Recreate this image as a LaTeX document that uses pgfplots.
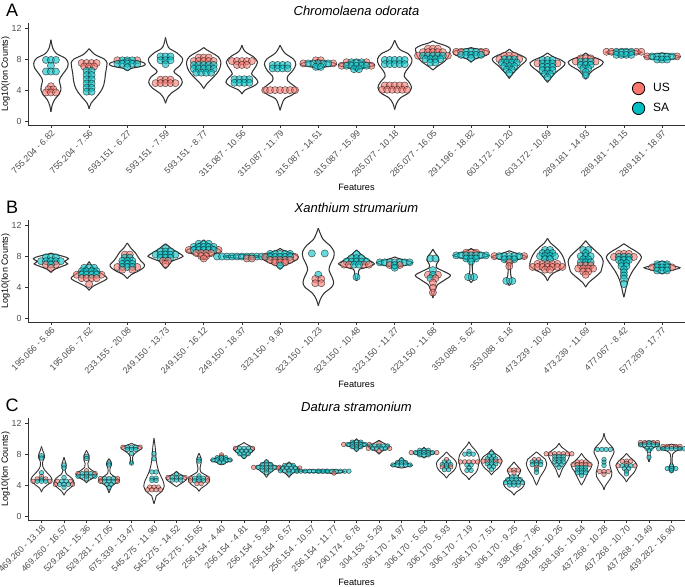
\documentclass[border=0pt]{standalone}
\usepackage{pgfplots}
\usepackage{pgfplotstable}
\pgfplotsset{compat=1.18}
\usepackage{fontspec}
\setmainfont{Liberation Sans}
\definecolor{usc}{HTML}{F8766D}
\definecolor{sac}{HTML}{00BFC4}
\definecolor{axc}{HTML}{333333}
\definecolor{tkc}{HTML}{4D4D4D}

\newcommand\vio[2]{%
 \addplot[vline] table[row sep=\\, x expr=#1+\thisrow{w}, y=y] {y w\\ #2};
 \addplot[vline] table[row sep=\\, x expr=#1-\thisrow{w}, y=y] {y w\\ #2};
}

\pgfplotsset{
 vline/.style={smooth, tension=0.55, draw=axc, line width=1.05pt, forget plot, no markers},
 dots/.style={scatter, only marks, forget plot, point meta=explicit symbolic,
   scatter/classes={U={mark=*,draw=black!90,fill=usc,fill opacity=0.6,draw opacity=0.7,line width=0.5pt},
                    S={mark=*,draw=black!90,fill=sac,fill opacity=0.6,draw opacity=0.7,line width=0.5pt}}},
 panel/.style={
  scale only axis, width=657pt, height=101.5pt,
  ymin=-0.5, ymax=12.6, ytick={0,4,8,12},
  axis x line*=bottom, axis y line*=left,
  axis line style={draw=axc, line width=0.8pt, -},
  tick style={draw=axc, line width=0.6pt},
  tick align=outside, major tick length=3pt,
  clip=false,
  /pgf/number format/assume math mode=true,
  x tick label style={rotate=45, anchor=north east, inner sep=1pt, font=\fontsize{8.8}{10}\selectfont, text=tkc},
  y tick label style={font=\fontsize{8.8}{10}\selectfont, text=tkc},
  ylabel={Log10(Ion Counts)},
  ylabel style={at={(axis description cs:-0.034,0.5)}, anchor=center, font=\fontsize{9}{11}\selectfont},
  xlabel={Features},
  xlabel style={at={(axis description cs:0.5,-0.61)}, anchor=center, font=\fontsize{9.2}{11}\selectfont},
 }
}

\pgfplotstableread[row sep=\\]{c y k g\\
0 7.9 -1 S\\0 7.9 0 S\\0 7.9 1 S\\0 7.15 0 S\\0 6.4 -1 S\\0 6.4 0 S\\0 6.4 1 S\\0 4.5 0 U\\0 4.1 -0.5 U\\0 4.1 0.5 U\\0 3.7 -1 U\\0 3.7 0 U\\0 3.7 1 U\\
1 7.5 -1.5 U\\1 7.5 -0.5 U\\1 7.5 0.5 U\\1 7.5 1.5 U\\1 7.05 -1 U\\1 7.05 0 U\\1 7.05 1 U\\1 6.5 -0.5 S\\1 6.5 0.5 S\\1 5.95 -0.5 S\\1 5.95 0.5 S\\1 5.4 -0.5 S\\1 5.4 0.5 S\\1 4.85 -0.5 S\\1 4.85 0.5 S\\1 4.3 -0.5 S\\1 4.3 0.5 S\\1 3.8 -0.5 S\\1 3.8 0.5 S\\
2 7.85 -2 U\\2 7.85 2 U\\2 7.85 -1 S\\2 7.85 0 S\\2 7.85 1 S\\2 7.4 -2 S\\2 7.4 -1 S\\2 7.4 0 S\\2 7.4 1 S\\2 7.4 2 S\\2 6.95 0 S\\
3 8.35 -1 S\\3 8.35 0 S\\3 8.35 1 S\\3 7.85 -1 S\\3 7.85 0 S\\3 7.85 1 S\\3 7.35 0 S\\3 5.35 -1 U\\3 5.35 0 U\\3 5.35 1 U\\3 4.9 -2 U\\3 4.9 -1 U\\3 4.9 0 U\\3 4.9 1 U\\3 4.9 2 U\\
4 8.2 -1 U\\4 8.2 0 U\\4 8.2 1 U\\4 7.75 -2 U\\4 7.75 -1 U\\4 7.75 0 U\\4 7.75 1 U\\4 7.75 2 U\\4 7.25 -2 S\\4 7.25 -1 S\\4 7.25 0 S\\4 7.25 1 S\\4 7.25 2 S\\4 6.75 -2 S\\4 6.75 -1 S\\4 6.75 0 S\\4 6.75 1 S\\4 6.75 2 S\\4 6.25 -1.5 S\\4 6.25 -0.5 S\\4 6.25 0.5 S\\4 6.25 1.5 S\\
5 7.75 -2 U\\5 7.75 -1 U\\5 7.75 0 U\\5 7.75 1 U\\5 7.75 2 U\\5 7.25 -1 U\\5 7.25 0 U\\5 7.25 1 U\\5 5.4 -1.5 S\\5 5.4 -0.5 S\\5 5.4 0.5 S\\5 5.4 1.5 S\\5 4.95 -1.5 S\\5 4.95 -0.5 S\\5 4.95 0.5 S\\5 4.95 1.5 S\\
6 7.25 -1.5 S\\6 7.25 -0.5 S\\6 7.25 0.5 S\\6 7.25 1.5 S\\6 6.8 -1.5 S\\6 6.8 -0.5 S\\6 6.8 0.5 S\\6 6.8 1.5 S\\6 4.0 -3 U\\6 4.0 -2 U\\6 4.0 -1 U\\6 4.0 0 U\\6 4.0 1 U\\6 4.0 2 U\\6 4.0 3 U\\
7 7.85 -0.5 U\\7 7.85 0.5 U\\7 7.45 -3 U\\7 7.45 3 U\\7 7.45 -2 S\\7 7.45 -1 S\\7 7.45 0 S\\7 7.45 1 S\\7 7.45 2 S\\7 7.0 -0.5 S\\7 7.0 0.5 S\\
8 7.6 -2 U\\8 7.6 2 U\\8 7.6 -1 S\\8 7.6 0 S\\8 7.6 1 S\\8 7.15 -3 U\\8 7.15 3 U\\8 7.15 -2 S\\8 7.15 -1 S\\8 7.15 0 S\\8 7.15 1 S\\8 7.15 2 S\\8 6.7 -0.5 S\\8 6.7 0.5 S\\
9 7.9 -2 S\\9 7.9 -1 S\\9 7.9 0 S\\9 7.9 1 S\\9 7.9 2 S\\9 7.35 -2 S\\9 7.35 -1 S\\9 7.35 0 S\\9 7.35 1 S\\9 7.35 2 S\\9 4.6 -2 U\\9 4.6 -1 U\\9 4.6 0 U\\9 4.6 1 U\\9 4.6 2 U\\9 4.05 -2.5 U\\9 4.05 -1.5 U\\9 4.05 -0.5 U\\9 4.05 0.5 U\\9 4.05 1.5 U\\9 4.05 2.5 U\\
10 9.35 -1 U\\10 9.35 0 U\\10 9.35 1 U\\10 8.9 -2 U\\10 8.9 -1 U\\10 8.9 0 U\\10 8.9 1 U\\10 8.9 2 U\\10 8.45 -3 U\\10 8.45 3 U\\10 8.45 -2 S\\10 8.45 -1 S\\10 8.45 0 S\\10 8.45 1 S\\10 8.45 2 S\\10 8.0 -1.5 S\\10 8.0 -0.5 S\\10 8.0 0.5 S\\10 8.0 1.5 S\\10 7.55 -0.5 S\\10 7.55 0.5 S\\
11 8.95 -3 U\\11 8.95 -2 U\\11 8.95 2 U\\11 8.95 3 U\\11 8.95 -1 S\\11 8.95 0 S\\11 8.95 1 S\\11 8.55 -2 S\\11 8.55 -1 S\\11 8.55 0 S\\11 8.55 1 S\\11 8.55 2 S\\11 8.15 0 S\\
12 8.45 -1 U\\12 8.45 0 U\\12 8.45 1 U\\12 8.0 -2 U\\12 8.0 2 U\\12 8.0 -1 S\\12 8.0 0 S\\12 8.0 1 S\\12 7.55 -1.5 S\\12 7.55 -0.5 S\\12 7.55 0.5 S\\12 7.55 1.5 S\\12 7.1 -1 S\\12 7.1 0 S\\12 7.1 1 S\\12 6.65 -0.5 S\\12 6.65 0.5 S\\12 6.2 0 S\\
13 7.9 -1 S\\13 7.9 0 S\\13 7.9 1 S\\13 7.45 -2 U\\13 7.45 2 U\\13 7.45 -1 S\\13 7.45 0 S\\13 7.45 1 S\\13 7.0 -1 S\\13 7.0 0 S\\13 7.0 1 S\\13 6.55 -1 S\\13 6.55 0 S\\13 6.55 1 S\\13 6.1 -0.5 S\\13 6.1 0.5 S\\13 5.65 0 S\\
14 8.1 -1 U\\14 8.1 0 U\\14 8.1 1 U\\14 7.7 -2 U\\14 7.7 2 U\\14 7.7 -1 S\\14 7.7 0 S\\14 7.7 1 S\\14 7.25 -1 S\\14 7.25 0 S\\14 7.25 1 S\\14 6.8 -0.5 S\\14 6.8 0.5 S\\14 6.35 0 S\\14 5.9 0 S\\
15 8.95 -3.5 U\\15 8.95 -2.5 U\\15 8.95 2.5 U\\15 8.95 3.5 U\\15 8.95 -1.5 S\\15 8.95 -0.5 S\\15 8.95 0.5 S\\15 8.95 1.5 S\\15 8.55 -1.5 S\\15 8.55 -0.5 S\\15 8.55 0.5 S\\15 8.55 1.5 S\\
16 8.35 -3 U\\16 8.35 3 U\\16 8.35 -2 S\\16 8.35 -1 S\\16 8.35 0 S\\16 8.35 1 S\\16 8.35 2 S\\16 7.95 -1 S\\16 7.95 0 S\\16 7.95 1 S\\
}\dotsA

\pgfplotstableread[row sep=\\]{c y k g\\
0 7.85 -1 S\\0 7.85 0 S\\0 7.85 1 S\\0 7.35 -2 S\\0 7.35 -1 S\\0 7.35 0 S\\0 7.35 1 S\\0 7.35 2 S\\0 6.9 -1 U\\0 6.9 1 U\\0 6.9 0 S\\0 6.5 0 U\\
1 6.5 -1 S\\1 6.5 0 S\\1 6.5 1 S\\1 6.05 -1.5 S\\1 6.05 -0.5 S\\1 6.05 0.5 S\\1 6.05 1.5 S\\1 5.6 -2.5 U\\1 5.6 2.5 U\\1 5.6 -1.5 S\\1 5.6 -0.5 S\\1 5.6 0.5 S\\1 5.6 1.5 S\\1 5.15 -1.5 U\\1 5.15 -0.5 U\\1 5.15 0.5 U\\1 5.15 1.5 U\\1 4.4 0 U\\
2 8.2 -0.5 U\\2 8.2 0.5 U\\2 7.8 -0.5 S\\2 7.8 0.5 S\\2 7.4 -1 S\\2 7.4 0 S\\2 7.4 1 S\\2 7.0 -1 S\\2 7.0 0 S\\2 7.0 1 S\\2 6.6 -2 U\\2 6.6 2 U\\2 6.6 -1 S\\2 6.6 0 S\\2 6.6 1 S\\2 6.25 -1 U\\2 6.25 1 U\\
3 9.0 0 S\\3 8.6 -1 S\\3 8.6 0 S\\3 8.6 1 S\\3 8.2 -2 S\\3 8.2 -1 S\\3 8.2 0 S\\3 8.2 1 S\\3 8.2 2 S\\3 7.8 -1 S\\3 7.8 0 S\\3 7.8 1 S\\3 7.4 -0.5 U\\3 7.4 0.5 U\\3 7.0 0 U\\
4 9.6 -1 S\\4 9.6 0 S\\4 9.6 1 S\\4 9.2 -2 S\\4 9.2 -1 S\\4 9.2 0 S\\4 9.2 1 S\\4 9.2 2 S\\4 8.8 -3 U\\4 8.8 3 U\\4 8.8 -2 S\\4 8.8 -1 S\\4 8.8 0 S\\4 8.8 1 S\\4 8.8 2 S\\4 8.4 -1.5 U\\4 8.4 -0.5 U\\4 8.4 0.5 U\\4 8.4 1.5 U\\4 8.0 -0.5 U\\4 8.0 0.5 U\\4 7.7 0 U\\
5 7.95 -5 S\\5 7.95 -4 S\\5 7.95 -3 S\\5 7.95 -2 S\\5 7.95 -1 S\\5 7.95 0 S\\5 7.95 1 S\\5 7.95 2 S\\5 7.95 3 S\\5 7.95 4 S\\5 7.95 5 S\\5 7.7 1 U\\5 7.7 2 U\\
6 8.3 -2 S\\6 8.3 -1 S\\6 8.3 0 S\\6 8.3 1 S\\6 8.3 2 S\\6 7.9 -3 U\\6 7.9 3 U\\6 7.9 -2 S\\6 7.9 -1 S\\6 7.9 0 S\\6 7.9 1 S\\6 7.9 2 S\\6 7.5 -2 U\\6 7.5 -1 U\\6 7.5 0 U\\6 7.5 1 U\\6 7.5 2 U\\6 7.2 -1 U\\6 7.2 0 U\\6 7.2 1 U\\6 6.8 0 S\\
7 8.35 -1.3 S\\7 8.35 1.3 S\\7 5.6 0 S\\7 5.05 -0.6 U\\7 5.05 0.6 U\\7 4.5 -0.6 U\\7 4.5 0.6 U\\
8 8.25 0 S\\8 7.75 -1 S\\8 7.75 0 S\\8 7.75 1 S\\8 7.3 -2 S\\8 7.3 -1 S\\8 7.3 0 S\\8 7.3 1 S\\8 7.3 2 S\\8 6.9 -2.5 U\\8 6.9 -1.5 U\\8 6.9 1.5 U\\8 6.9 2.5 U\\8 6.9 -0.5 S\\8 6.9 0.5 S\\8 5.3 0 S\\
9 7.2 -3 S\\9 7.2 -2 S\\9 7.2 -1 S\\9 7.2 0 S\\9 7.2 1 S\\9 7.2 2 S\\9 7.2 3 S\\9 6.85 -1 U\\9 6.85 1 U\\9 6.85 0 S\\9 6.5 0 S\\
10 7.7 -0.5 S\\10 7.7 0.5 S\\10 6.2 0 S\\10 5.6 -1 U\\10 5.6 1 U\\10 5.6 0 S\\10 5.15 -0.5 S\\10 5.15 0.5 U\\10 4.6 0 U\\10 3.9 0 U\\10 3.3 0 U\\
11 8.45 -1 U\\11 8.45 0 U\\11 8.45 1 U\\11 8.1 -3 S\\11 8.1 -2 S\\11 8.1 -1 S\\11 8.1 0 S\\11 8.1 1 S\\11 8.1 2 S\\11 8.1 3 S\\11 7.7 -1 S\\11 7.7 0 S\\11 7.7 1 S\\11 7.3 0 S\\11 5.3 -0.6 S\\11 5.3 0.6 S\\
12 8.0 -3 U\\12 8.0 3 U\\12 8.0 -2 S\\12 8.0 -1 S\\12 8.0 0 S\\12 8.0 1 S\\12 8.0 2 S\\12 7.6 -1 S\\12 7.6 0 S\\12 7.6 1 S\\12 7.2 0 U\\12 6.7 0 U\\12 4.8 -0.6 S\\12 4.8 0.6 S\\
13 8.8 -0.5 S\\13 8.8 0.5 S\\13 8.4 -1 S\\13 8.4 0 S\\13 8.4 1 S\\13 8.0 -1.5 S\\13 8.0 -0.5 S\\13 8.0 0.5 S\\13 8.0 1.5 S\\13 7.6 -0.5 S\\13 7.6 0.5 S\\13 7.0 -2 U\\13 7.0 -1 U\\13 7.0 0 U\\13 7.0 1 U\\13 7.0 2 U\\13 6.6 -3 U\\13 6.6 -2 U\\13 6.6 -1 U\\13 6.6 0 U\\13 6.6 1 U\\13 6.6 2 U\\13 6.6 3 U\\13 6.25 -0.5 U\\13 6.25 0.5 U\\
14 8.8 -0.5 S\\14 8.8 0.5 S\\14 8.4 0 S\\14 8.0 -1 S\\14 8.0 0 S\\14 8.0 1 S\\14 7.6 -0.5 S\\14 7.6 0.5 S\\14 7.2 -1 S\\14 7.2 0 S\\14 7.2 1 S\\14 6.8 -1 U\\14 6.8 0 U\\14 6.8 1 U\\14 6.4 -1.5 U\\14 6.4 -0.5 U\\14 6.4 0.5 U\\14 6.4 1.5 U\\14 6.0 -0.5 U\\14 6.0 0.5 U\\14 5.6 0 U\\
15 8.3 -1 U\\15 8.3 0 U\\15 8.3 1 U\\15 7.9 -2 U\\15 7.9 2 U\\15 7.9 -1 S\\15 7.9 0 S\\15 7.9 1 S\\15 7.5 -1 S\\15 7.5 0 S\\15 7.5 1 S\\15 7.1 -0.5 S\\15 7.1 0.5 S\\15 6.7 -0.5 S\\15 6.7 0.5 S\\15 6.3 0 S\\15 5.9 0 S\\15 5.5 0 S\\15 5.1 0 S\\15 4.4 0 S\\
16 6.95 -1 S\\16 6.95 0 S\\16 6.95 1 S\\16 6.55 -2 U\\16 6.55 2 U\\16 6.55 -1 S\\16 6.55 0 S\\16 6.55 1 S\\16 6.15 -1 S\\16 6.15 0 S\\16 6.15 1 S\\
}\dotsB

\pgfplotstableread[row sep=\\]{c y k g\\
0 7.8 0 S\\0 7.5 0 S\\0 5.6 0 S\\0 5.1 0 U\\0 4.8 -1 U\\0 4.8 1 U\\0 4.8 0 S\\0 4.5 -2 U\\0 4.5 2 U\\0 4.5 -1 S\\0 4.5 0 S\\0 4.5 1 S\\
1 6.6 0 S\\1 6.2 0 S\\1 5.0 0 S\\1 4.5 -1.5 U\\1 4.5 1.5 U\\1 4.5 -0.5 S\\1 4.5 0.5 S\\1 4.1 -2 U\\1 4.1 2 U\\1 4.1 -1 S\\1 4.1 0 S\\1 4.1 1 S\\1 3.7 0 S\\
2 7.7 0 S\\2 7.45 0 S\\2 5.85 0 U\\2 5.5 -2 U\\2 5.5 2 U\\2 5.5 -1 S\\2 5.5 0 S\\2 5.5 1 S\\2 5.15 -2 S\\2 5.15 -1 S\\2 5.15 0 S\\2 5.15 1 S\\2 5.15 2 S\\2 4.8 0 S\\
3 6.85 0 S\\3 6.6 0 S\\3 4.85 -2 U\\3 4.85 2 U\\3 4.85 -1 S\\3 4.85 0 S\\3 4.85 1 S\\3 4.5 -2 U\\3 4.5 2 U\\3 4.5 -1 S\\3 4.5 0 S\\3 4.5 1 S\\3 4.1 -0.5 S\\3 4.1 0.5 S\\3 3.7 0 S\\
4 8.9 -2 U\\4 8.9 2 U\\4 8.9 -1 S\\4 8.9 0 S\\4 8.9 1 S\\4 8.6 -1 S\\4 8.6 0 S\\4 8.6 1 S\\4 8.1 0 S\\4 6.85 0 S\\
5 8.1 0 S\\5 7.4 0 S\\5 5.7 -0.5 S\\5 5.7 0.5 S\\5 4.9 -0.5 S\\5 4.9 0.5 S\\5 4.6 -0.5 S\\5 4.6 0.5 S\\5 3.75 -1 U\\5 3.75 0 U\\5 3.75 1 U\\5 3.4 -1.5 U\\5 3.4 -0.5 U\\5 3.4 0.5 U\\5 3.4 1.5 U\\
6 5.4 0 S\\6 5.0 -2 U\\6 5.0 2 U\\6 5.0 -1 S\\6 5.0 0 S\\6 5.0 1 S\\6 4.65 -1 S\\6 4.65 0 S\\6 4.65 1 S\\
7 7.35 0 S\\7 7.1 0 S\\7 5.2 0 S\\7 4.9 -2 U\\7 4.9 2 U\\7 4.9 -1 S\\7 4.9 0 S\\7 4.9 1 S\\7 4.55 -2 U\\7 4.55 2 U\\7 4.55 -1 S\\7 4.55 0 S\\7 4.55 1 S\\7 4.2 -0.5 U\\7 4.2 0.5 U\\
8 7.9 0 U\\8 7.55 -1 S\\8 7.55 0 S\\8 7.55 1 S\\8 7.25 -2 S\\8 7.25 -1 S\\8 7.25 0 S\\8 7.25 1 S\\8 7.25 2 S\\8 6.95 -0.5 S\\8 6.95 0.5 S\\
9 8.75 -2 U\\9 8.75 2 U\\9 8.75 -1 S\\9 8.75 0 S\\9 8.75 1 S\\9 8.4 -1.5 S\\9 8.4 -0.5 S\\9 8.4 0.5 S\\9 8.4 1.5 S\\9 8.05 -1 S\\9 8.05 0 S\\9 8.05 1 S\\9 7.7 0 S\\
10 7.0 0 S\\10 6.65 -1 S\\10 6.65 0 S\\10 6.65 1 S\\10 6.3 -3 U\\10 6.3 3 U\\10 6.3 -2 S\\10 6.3 -1 S\\10 6.3 0 S\\10 6.3 1 S\\10 6.3 2 S\\10 5.95 -1 S\\10 5.95 0 S\\10 5.95 1 S\\10 5.6 0 S\\
11 6.55 -1 S\\11 6.55 0 S\\11 6.55 1 S\\11 6.2 -2.5 U\\11 6.2 2.5 U\\11 6.2 -1.5 S\\11 6.2 -0.5 S\\11 6.2 0.5 S\\11 6.2 1.5 S\\11 5.85 -2 S\\11 5.85 -1 S\\11 5.85 0 S\\11 5.85 1 S\\11 5.85 2 S\\11 5.55 0 S\\
12 5.8 -3.5 S\\12 5.8 -2.5 S\\12 5.8 -1.5 S\\12 5.8 -0.5 S\\12 5.8 0.5 S\\12 5.8 1.5 S\\12 5.8 2.5 S\\12 5.8 3.5 S\\
13 5.8 -3.5 S\\13 5.8 -2.5 S\\13 5.8 -1.5 S\\13 5.8 -0.5 S\\13 5.8 0.5 S\\13 5.8 1.5 S\\13 5.8 2.5 S\\13 5.8 3.5 S\\13 5.55 0 U\\
14 9.25 -3 U\\14 9.25 3 U\\14 9.55 -1 S\\14 9.55 0 S\\14 9.55 1 S\\14 9.25 -2 S\\14 9.25 -1 S\\14 9.25 0 S\\14 9.25 1 S\\14 9.25 2 S\\14 8.95 -1 S\\14 8.95 0 S\\14 8.95 1 S\\14 8.65 0 S\\
15 9.4 0 U\\15 9.05 -2 S\\15 9.05 -1 S\\15 9.05 0 S\\15 9.05 1 S\\15 9.05 2 S\\15 8.75 -2.5 U\\15 8.75 2.5 U\\15 8.75 -1.5 S\\15 8.75 -0.5 S\\15 8.75 0.5 S\\15 8.75 1.5 S\\15 8.45 0 U\\
16 7.25 0 S\\16 6.9 -1 S\\16 6.9 0 S\\16 6.9 1 S\\16 6.6 -2 S\\16 6.6 -1 S\\16 6.6 0 S\\16 6.6 1 S\\16 6.6 2 S\\
17 8.5 -1 S\\17 8.5 0 S\\17 8.5 1 S\\17 8.2 -3 U\\17 8.2 3 U\\17 8.2 -2 S\\17 8.2 -1 S\\17 8.2 0 S\\17 8.2 1 S\\17 8.2 2 S\\17 7.9 -1 S\\17 7.9 0 S\\17 7.9 1 S\\
18 7.3 0 U\\18 7.0 -0.5 S\\18 7.0 0.5 S\\18 6.65 -1 S\\18 6.65 0 S\\18 6.65 1 S\\18 6.35 -1 U\\18 6.35 1 U\\18 6.35 0 S\\18 6.0 -0.5 S\\18 6.0 0.5 S\\
19 8.35 0 S\\19 8.0 -1 S\\19 8.0 0 S\\19 8.0 1 S\\19 7.0 -2 U\\19 7.0 -1 U\\19 7.0 0 U\\19 7.0 1 U\\19 7.0 2 U\\19 6.6 -0.5 S\\19 6.6 0.5 S\\19 6.25 0 S\\19 5.9 -0.5 S\\19 5.9 0.5 S\\
20 8.1 0 S\\20 7.75 -0.5 S\\20 7.75 0.5 S\\20 7.4 -1 S\\20 7.4 0 S\\20 7.4 1 S\\20 7.1 -2 U\\20 7.1 -1 U\\20 7.1 1 U\\20 7.1 2 U\\20 7.1 0 S\\20 6.75 -1 S\\20 6.75 0 S\\20 6.75 1 S\\20 6.4 -0.5 S\\20 6.4 0.5 S\\20 6.05 0 S\\
21 5.95 -1 U\\21 5.95 0 U\\21 5.95 1 U\\21 5.6 0 U\\21 5.05 -0.5 S\\21 5.05 0.5 S\\21 4.7 -1.5 S\\21 4.7 -0.5 S\\21 4.7 0.5 S\\21 4.7 1.5 S\\21 4.35 -2 S\\21 4.35 -1 S\\21 4.35 0 S\\21 4.35 1 S\\21 4.35 2 S\\21 4.0 -1 S\\21 4.0 0 S\\21 4.0 1 S\\
22 7.3 -0.5 U\\22 7.3 0.5 U\\22 7.0 -1 S\\22 7.0 0 S\\22 7.0 1 S\\22 6.65 -1 S\\22 6.65 0 S\\22 6.65 1 S\\22 6.3 0 U\\22 6.0 0 S\\22 5.65 0 S\\
23 8.05 -3 U\\23 8.05 -2 U\\23 8.05 -1 U\\23 8.05 0 U\\23 8.05 1 U\\23 8.05 2 U\\23 8.05 3 U\\23 7.7 -1 S\\23 7.7 0 S\\23 7.7 1 S\\23 7.35 -1 S\\23 7.35 0 S\\23 7.35 1 S\\23 7.0 -1 S\\23 7.0 0 S\\23 7.0 1 S\\23 6.65 -0.5 S\\23 6.65 0.5 S\\23 6.3 0 S\\
24 7.0 -1 U\\24 7.0 0 U\\24 7.0 1 U\\24 6.65 -2 U\\24 6.65 -1 U\\24 6.65 0 U\\24 6.65 1 U\\24 6.65 2 U\\24 6.3 -1 S\\24 6.3 0 S\\24 6.3 1 S\\24 5.95 -1 S\\24 5.95 0 S\\24 5.95 1 S\\24 5.6 -1 S\\24 5.6 0 S\\24 5.6 1 S\\24 5.25 0 S\\
25 8.6 -1.5 S\\25 8.6 -0.5 S\\25 8.6 0.5 S\\25 8.6 1.5 S\\25 7.3 0 S\\25 6.95 0 S\\25 6.55 0 S\\25 5.75 -1 U\\25 5.75 0 U\\25 5.75 1 U\\25 5.4 0 U\\
26 7.1 -1 U\\26 7.1 0 U\\26 7.1 1 U\\26 6.8 0 U\\26 6.5 -2 U\\26 6.5 2 U\\26 6.5 -1 S\\26 6.5 0 S\\26 6.5 1 S\\26 6.15 -0.5 S\\26 6.15 0.5 S\\26 5.8 0 S\\26 5.45 0 S\\
27 9.5 -2 U\\27 9.5 -1 U\\27 9.5 1 U\\27 9.5 2 U\\27 9.5 0 S\\27 9.2 -2 S\\27 9.2 -1 S\\27 9.2 0 S\\27 9.2 1 S\\27 9.2 2 S\\27 8.75 -0.5 S\\27 8.75 0.5 S\\27 8.45 0 S\\27 7.6 0 S\\
28 9.0 -2 U\\28 9.0 -1 U\\28 9.0 0 U\\28 9.0 1 U\\28 9.0 2 U\\28 8.7 -3 S\\28 8.7 -2 S\\28 8.7 -1 S\\28 8.7 0 S\\28 8.7 1 S\\28 8.7 2 S\\28 8.7 3 S\\28 6.45 0 S\\28 6.15 -1 S\\28 6.15 0 S\\28 6.15 1 S\\28 5.85 0 S\\
}\dotsC

\begin{document}
\begin{tikzpicture}
\useasboundingbox (0pt,0pt) rectangle (685pt,586pt);

% ---------------- Panel A ----------------
\begin{axis}[panel, at={(28pt,461pt)}, anchor=south west,
  xmin=-0.6, xmax=16.6, xtick={0,...,16},
  xticklabels={755.204 - 6.82,755.204 - 7.56,593.151 - 6.27,593.151 - 7.59,593.151 - 8.77,315.087 - 10.56,315.087 - 11.79,315.087 - 14.51,315.087 - 15.99,285.077 - 10.18,285.077 - 16.05,291.196 - 18.82,603.172 - 10.20,603.172 - 10.69,289.181 - 14.93,289.181 - 18.15,289.181 - 18.97},
  legend style={at={(axis description cs:0.919,0.43)}, anchor=north west, draw=none, fill=none,
    font=\fontsize{12}{14}\selectfont, row sep=6pt, column sep=6pt, inner sep=0pt},
  legend cell align=left,
  ]
\vio{0}{1.2 0\\2.0 0.03\\2.8 0.10\\3.5 0.22\\4.0 0.26\\4.6 0.25\\5.3 0.22\\6.0 0.30\\6.8 0.42\\7.45 0.45\\8.1 0.38\\8.7 0.15\\9.4 0.05\\10.5 0\\}
\vio{1}{1.6 0\\2.3 0.05\\3.0 0.17\\3.8 0.30\\4.6 0.38\\5.3 0.41\\6.2 0.43\\7.0 0.46\\7.5 0.47\\8.0 0.40\\8.6 0.15\\9.35 0\\}
\vio{2}{6.5 0\\6.8 0.1\\7.1 0.4\\7.35 0.47\\7.6 0.4\\7.9 0.1\\8.1 0\\}
\vio{3}{2.3 0\\3.0 0.05\\3.6 0.15\\4.3 0.35\\5.0 0.44\\5.7 0.38\\6.4 0.22\\7.2 0.38\\8.0 0.45\\8.8 0.3\\9.5 0.08\\10.8 0\\}
\vio{4}{4.2 0\\4.8 0.08\\5.5 0.22\\6.2 0.35\\6.8 0.42\\7.6 0.45\\8.3 0.38\\8.8 0.22\\9.2 0.08\\9.5 0\\}
\vio{5}{3.5 0\\4.0 0.08\\4.5 0.3\\5.0 0.42\\5.6 0.35\\6.1 0.25\\6.8 0.33\\7.6 0.41\\8.3 0.3\\9.0 0.08\\9.8 0\\}
\vio{6}{1.4 0\\2.2 0.05\\2.9 0.12\\3.4 0.32\\4.0 0.45\\4.6 0.35\\5.2 0.2\\5.8 0.2\\6.5 0.33\\7.3 0.41\\8.0 0.35\\8.8 0.12\\9.8 0\\}
\vio{7}{6.6 0\\6.9 0.1\\7.2 0.42\\7.35 0.47\\7.55 0.38\\7.8 0.1\\8.0 0\\}
\vio{8}{6.4 0\\6.8 0.1\\7.1 0.42\\7.3 0.47\\7.5 0.35\\7.8 0.08\\7.95 0\\}
\vio{9}{1.5 0\\2.3 0.05\\3.0 0.15\\3.6 0.35\\4.3 0.44\\5.0 0.38\\5.8 0.25\\6.5 0.3\\7.3 0.42\\8.0 0.45\\8.7 0.35\\9.3 0.12\\10.45 0\\}
\vio{10}{6.6 0\\7.0 0.1\\7.7 0.3\\8.3 0.4\\8.9 0.44\\9.4 0.45\\9.8 0.3\\10.1 0.1\\10.35 0\\}
\vio{11}{7.6 0\\8.0 0.1\\8.5 0.4\\8.85 0.47\\9.1 0.4\\9.35 0.1\\9.5 0\\}
\vio{12}{5.5 0\\6.0 0.07\\6.6 0.18\\7.2 0.3\\7.7 0.42\\8.1 0.44\\8.5 0.3\\8.9 0.1\\9.3 0\\}
\vio{13}{5.0 0\\5.5 0.08\\6.2 0.2\\6.8 0.35\\7.2 0.44\\7.5 0.46\\7.9 0.35\\8.3 0.15\\8.8 0\\}
\vio{14}{5.4 0\\6.0 0.08\\6.6 0.2\\7.1 0.38\\7.6 0.46\\8.0 0.35\\8.4 0.12\\8.8 0\\}
\vio{15}{8.3 0\\8.55 0.2\\8.85 0.47\\9.1 0.3\\9.3 0\\}
\vio{16}{7.8 0\\8.05 0.3\\8.3 0.47\\8.55 0.3\\8.8 0\\}
\addplot[dots, mark size=3.6pt] table[x expr=\thisrow{c}+0.13*\thisrow{k}, y=y, meta=g] {\dotsA};
\addlegendimage{legend image code/.code={\draw[fill=usc,draw=black,line width=0.8pt] (6pt,0pt) circle[radius=6.2pt];}}
\addlegendentry{US}
\addlegendimage{legend image code/.code={\draw[fill=sac,draw=black,line width=0.8pt] (6pt,0pt) circle[radius=6.2pt];}}
\addlegendentry{SA}
\node[font=\fontsize{13}{15}\selectfont\itshape] at (axis description cs:0.5,1.125) {Chromolaena odorata};
\node[font=\fontsize{18}{20}\selectfont] at (axis description cs:-0.024,1.13) {A};
\end{axis}

% ---------------- Panel B ----------------
\begin{axis}[panel, at={(28pt,264pt)}, anchor=south west,
  xmin=-0.6, xmax=16.6, xtick={0,...,16},
  xticklabels={195.066 - 5.86,195.066 - 7.62,233.155 - 20.08,249.150 - 13.73,249.150 - 16.12,249.150 - 18.37,323.150 - 9.90,323.150 - 10.23,323.150 - 10.48,323.150 - 11.27,323.150 - 11.68,353.088 - 5.62,353.088 - 6.18,473.239 - 10.60,473.239 - 11.69,477.067 - 8.42,577.269 - 17.77},
  ]
\vio{0}{5.9 0\\6.3 0.1\\6.7 0.3\\7.0 0.44\\7.3 0.36\\7.7 0.46\\8.0 0.3\\8.3 0.05\\8.4 0\\}
\vio{1}{3.6 0\\4.1 0.1\\4.6 0.3\\5.1 0.47\\5.5 0.4\\6.0 0.25\\6.5 0.12\\6.9 0.05\\7.3 0\\}
\vio{2}{5.1 0\\5.6 0.1\\6.1 0.3\\6.5 0.42\\6.9 0.45\\7.4 0.35\\7.9 0.28\\8.5 0.2\\9.0 0.1\\9.7 0\\}
\vio{3}{6.4 0\\6.8 0.08\\7.3 0.15\\7.7 0.35\\8.0 0.46\\8.4 0.35\\8.9 0.18\\9.3 0.08\\9.6 0\\}
\vio{4}{7.5 0\\7.9 0.1\\8.3 0.3\\8.65 0.46\\9.0 0.35\\9.4 0.2\\9.8 0.06\\10.1 0\\}
\vio{5}{7.7 0\\7.85 0.4\\7.95 0.47\\8.05 0.4\\8.2 0\\}
\vio{6}{6.3 0\\6.7 0.08\\7.2 0.3\\7.6 0.45\\8.0 0.46\\8.4 0.3\\8.7 0.1\\9.0 0\\}
\vio{7}{1.6 0\\2.4 0.05\\3.2 0.15\\4.0 0.35\\4.6 0.4\\5.3 0.36\\6.2 0.28\\7.0 0.32\\7.8 0.4\\8.6 0.41\\9.4 0.3\\10.2 0.12\\11.6 0\\}
\vio{8}{4.8 0\\5.2 0.03\\5.8 0.05\\6.3 0.08\\6.6 0.3\\7.0 0.47\\7.4 0.35\\7.9 0.2\\8.4 0.08\\8.8 0\\}
\vio{9}{6.3 0\\6.6 0.1\\6.9 0.35\\7.15 0.47\\7.4 0.35\\7.7 0.1\\7.9 0\\}
\vio{10}{2.6 0\\3.2 0.03\\3.8 0.06\\4.3 0.12\\4.9 0.3\\5.5 0.46\\6.0 0.3\\6.5 0.1\\7.0 0.1\\7.5 0.16\\7.9 0.14\\8.4 0.06\\8.9 0\\}
\vio{11}{4.6 0\\4.9 0.05\\5.3 0.07\\5.8 0.04\\6.6 0.03\\7.3 0.05\\7.7 0.2\\8.05 0.46\\8.4 0.3\\8.7 0.1\\9.0 0\\}
\vio{12}{4.2 0\\4.6 0.06\\5.0 0.07\\5.5 0.04\\6.5 0.03\\7.2 0.05\\7.6 0.25\\7.9 0.46\\8.2 0.3\\8.5 0.1\\8.7 0\\}
\vio{13}{4.8 0\\5.3 0.05\\5.8 0.15\\6.3 0.35\\6.8 0.46\\7.3 0.45\\8.0 0.4\\8.6 0.32\\9.2 0.2\\9.7 0.08\\10.3 0\\}
\vio{14}{4.0 0\\4.6 0.08\\5.3 0.25\\6.0 0.4\\6.6 0.43\\7.3 0.46\\8.0 0.4\\8.7 0.25\\9.4 0.1\\10.0 0\\}
\vio{15}{2.7 0\\3.3 0.03\\4.0 0.06\\5.0 0.12\\6.0 0.22\\7.0 0.36\\7.9 0.46\\8.5 0.35\\9.1 0.15\\9.6 0\\}
\vio{16}{5.7 0\\6.0 0.12\\6.3 0.35\\6.5 0.47\\6.75 0.3\\7.1 0.15\\7.35 0\\}
\addplot[dots, mark size=3.6pt] table[x expr=\thisrow{c}+0.13*\thisrow{k}, y=y, meta=g] {\dotsB};
\node[font=\fontsize{13}{15}\selectfont\itshape] at (axis description cs:0.5,1.12) {Xanthium strumarium};
\node[font=\fontsize{18}{20}\selectfont] at (axis description cs:-0.024,1.13) {B};
\end{axis}

% ---------------- Panel C ----------------
\begin{axis}[panel, at={(28pt,66pt)}, anchor=south west,
  xmin=-0.6, xmax=28.6, xtick={0,...,28},
  xticklabels={469.260 - 13.18,469.260 - 16.57,529.281 - 15.36,529.281 - 17.05,675.339 - 13.47,545.275 - 11.90,545.275 - 14.52,545.275 - 15.65,256.154 - 4.40,256.154 - 4.81,256.154 - 5.39,256.154 - 6.57,256.154 - 10.57,256.154 - 11.77,290.174 - 6.78,304.153 - 5.29,306.170 - 4.97,306.170 - 5.63,306.170 - 5.93,306.170 - 7.19,306.170 - 7.51,306.170 - 9.25,338.195 - 7.96,338.195 - 10.26,338.195 - 10.54,437.268 - 10.28,437.268 - 10.70,437.268 - 13.49,439.282 - 16.90},
  vline/.append style={line width=0.9pt},
  ]
\vio{0}{3.1 0\\3.6 0.08\\4.1 0.3\\4.7 0.47\\5.3 0.35\\5.9 0.15\\6.5 0.05\\7.1 0.06\\7.6 0.14\\8.0 0.12\\8.5 0.05\\9.0 0\\}
\vio{1}{2.7 0\\3.2 0.1\\3.7 0.3\\4.3 0.45\\4.9 0.35\\5.4 0.12\\5.9 0.05\\6.4 0.1\\6.8 0.09\\7.2 0.04\\7.6 0\\}
\vio{2}{4.3 0\\4.6 0.1\\5.0 0.35\\5.4 0.47\\5.8 0.3\\6.3 0.08\\6.8 0.06\\7.3 0.12\\7.8 0.12\\8.2 0.05\\8.5 0\\}
\vio{3}{3.0 0\\3.4 0.05\\3.9 0.12\\4.3 0.35\\4.6 0.46\\5.0 0.3\\5.5 0.06\\6.2 0.05\\6.7 0.12\\7.1 0.08\\7.4 0\\}
\vio{4}{6.6 0\\7.0 0.05\\7.6 0.05\\8.1 0.15\\8.5 0.35\\8.8 0.47\\9.05 0.3\\9.25 0.1\\9.4 0\\}
\vio{5}{1.6 0\\2.1 0.05\\2.6 0.1\\3.2 0.35\\3.8 0.45\\4.4 0.42\\5.0 0.33\\5.7 0.22\\6.4 0.15\\7.2 0.1\\8.0 0.08\\9.0 0.05\\10.05 0\\}
\vio{6}{3.8 0\\4.2 0.2\\4.6 0.4\\4.9 0.47\\5.2 0.3\\5.5 0.1\\5.8 0\\}
\vio{7}{3.2 0\\3.6 0.1\\4.1 0.35\\4.7 0.47\\5.2 0.35\\5.7 0.08\\6.3 0.05\\6.9 0.1\\7.4 0.1\\7.8 0.05\\8.1 0\\}
\vio{8}{6.6 0\\6.9 0.2\\7.2 0.47\\7.45 0.3\\7.7 0.1\\8.0 0\\}
\vio{9}{7.4 0\\7.8 0.15\\8.3 0.35\\8.65 0.47\\9.0 0.3\\9.3 0.1\\9.5 0\\}
\vio{10}{5.0 0\\5.5 0.12\\6.0 0.35\\6.35 0.47\\6.6 0.3\\7.0 0.1\\7.3 0\\}
\vio{11}{5.0 0\\5.5 0.15\\5.9 0.4\\6.15 0.47\\6.4 0.3\\6.7 0.12\\7.0 0\\}
\vio{12}{5.6 0\\5.72 0.4\\5.8 0.47\\5.88 0.4\\6.0 0\\}
\vio{13}{5.45 0\\5.65 0.4\\5.75 0.47\\5.85 0.4\\6.0 0\\}
\vio{14}{8.3 0\\8.6 0.08\\8.9 0.25\\9.2 0.47\\9.45 0.3\\9.7 0.1\\10.0 0\\}
\vio{15}{8.0 0\\8.4 0.15\\8.75 0.4\\9.0 0.47\\9.3 0.3\\9.6 0.1\\9.8 0\\}
\vio{16}{6.2 0\\6.4 0.3\\6.55 0.47\\6.8 0.3\\7.2 0.12\\7.6 0\\}
\vio{17}{7.5 0\\7.75 0.15\\8.0 0.4\\8.2 0.47\\8.45 0.2\\8.7 0.05\\8.9 0\\}
\vio{18}{4.9 0\\5.3 0.1\\5.8 0.3\\6.3 0.42\\6.8 0.45\\7.3 0.35\\7.8 0.15\\8.3 0\\}
\vio{19}{4.7 0\\5.1 0.1\\5.6 0.3\\6.2 0.4\\6.7 0.42\\7.3 0.46\\8.0 0.4\\8.6 0.25\\9.1 0.1\\9.6 0\\}
\vio{20}{5.3 0\\5.7 0.1\\6.2 0.3\\6.7 0.42\\7.2 0.46\\7.7 0.35\\8.1 0.15\\8.6 0\\}
\vio{21}{2.7 0\\3.1 0.1\\3.6 0.35\\4.2 0.47\\4.7 0.35\\5.1 0.18\\5.5 0.25\\5.9 0.3\\6.3 0.2\\6.7 0.08\\7.0 0\\}
\vio{22}{4.0 0\\4.5 0.08\\5.0 0.15\\5.6 0.28\\6.2 0.4\\6.8 0.45\\7.3 0.4\\7.8 0.2\\8.3 0\\}
\vio{23}{5.0 0\\5.5 0.07\\6.1 0.15\\6.7 0.28\\7.3 0.4\\7.9 0.47\\8.4 0.35\\8.9 0.12\\9.4 0\\}
\vio{24}{4.0 0\\4.5 0.1\\5.1 0.2\\5.7 0.3\\6.2 0.42\\6.6 0.46\\7.1 0.3\\7.6 0.12\\8.1 0\\}
\vio{25}{3.4 0\\3.9 0.06\\4.5 0.2\\5.1 0.33\\5.6 0.35\\6.3 0.28\\7.0 0.25\\7.6 0.35\\8.3 0.45\\8.8 0.4\\9.4 0.2\\10.0 0.06\\10.7 0\\}
\vio{26}{4.4 0\\4.9 0.1\\5.5 0.3\\6.1 0.42\\6.6 0.46\\7.1 0.35\\7.6 0.15\\8.1 0\\}
\vio{27}{7.0 0\\7.3 0.04\\7.8 0.05\\8.3 0.06\\8.7 0.1\\9.0 0.35\\9.3 0.47\\9.5 0.3\\9.7 0\\}
\vio{28}{5.6 0\\5.9 0.08\\6.2 0.13\\6.5 0.08\\6.9 0.03\\7.5 0.03\\8.0 0.05\\8.4 0.2\\8.7 0.47\\8.95 0.35\\9.2 0.1\\9.3 0\\}
\addplot[dots, mark size=2.3pt] table[x expr=\thisrow{c}+0.19*\thisrow{k}, y=y, meta=g] {\dotsC};
\node[font=\fontsize{13}{15}\selectfont\itshape] at (axis description cs:0.5,1.115) {Datura stramonium};
\node[font=\fontsize{18}{20}\selectfont] at (axis description cs:-0.024,1.13) {C};
\end{axis}
\end{tikzpicture}
\end{document}
